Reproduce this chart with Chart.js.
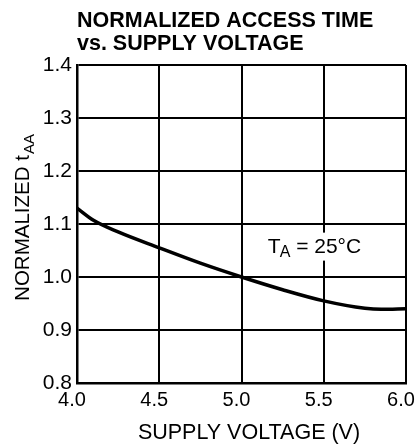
<!DOCTYPE html>
<html>
<head>
<meta charset="utf-8">
<script src="https://cdn.jsdelivr.net/npm/chart.js@4.4.0/dist/chart.umd.min.js"></script>
<style>
  html, body { margin: 0; padding: 0; background: #fff; }
</style>
</head>
<body>
<canvas id="chart" width="418" height="446"></canvas>
<script>
// values
const voltage = [4.0, 4.1, 4.25, 4.5, 4.75, 5.0, 5.25, 5.5, 5.75, 5.85, 6.0]
const normTaa = [1.13, 1.107, 1.085, 1.055, 1.026, 1.0, 0.976, 0.955, 0.941, 0.939, 0.94]
const xTicks = [4.0, 4.5, 5.0, 5.5, 6.0]
const yTicks = [0.8, 0.9, 1.0, 1.1, 1.2, 1.3, 1.4]

const FONT = "'Liberation Sans', Arial, sans-serif"

// axis titles + the TA note, drawn by hand (subscripts)
const textPlugin = {
    id: 'texts',
    afterDraw(chart) {
        const ctx = chart.ctx
        const area = chart.chartArea
        ctx.save()
        ctx.fillStyle = '#000'
        ctx.textBaseline = 'alphabetic'
        ctx.textAlign = 'left'

        // x title
        ctx.font = '21.5px ' + FONT
        ctx.textAlign = 'center'
        ctx.fillText('SUPPLY VOLTAGE (V)', 249, 439)
        ctx.textAlign = 'left'

        // rotated y title
        const main = 'NORMALIZED t'
        const sub = 'AA'
        ctx.font = '20.5px ' + FONT
        const w1 = ctx.measureText(main).width
        ctx.font = '15px ' + FONT
        const w2 = ctx.measureText(sub).width
        ctx.translate(21, (area.top + area.bottom) / 2 - 6)
        ctx.rotate(-Math.PI / 2)
        const sx = -(w1 + w2) / 2
        ctx.font = '20.5px ' + FONT
        ctx.fillText(main, sx, 7.5)
        ctx.font = '15px ' + FONT
        ctx.fillText(sub, sx + w1 + 1, 13)
        ctx.restore()

        // TA = 25°C
        const xs = chart.scales.x
        const ys = chart.scales.y
        const tx = xs.getPixelForValue(5.16)
        const ty = ys.getPixelForValue(1.046)
        ctx.save()
        ctx.font = '21px ' + FONT
        const wT = ctx.measureText('T').width
        ctx.font = '16px ' + FONT
        const wA = ctx.measureText('A').width
        ctx.font = '21px ' + FONT
        const wRest = ctx.measureText(' = 25°C').width
        ctx.fillStyle = '#fff'
        ctx.fillRect(tx - 3, ty - 20, wT + wA + wRest + 4, 28)
        ctx.fillStyle = '#000'
        ctx.fillText('T', tx, ty)
        ctx.font = '16px ' + FONT
        ctx.fillText('A', tx + wT - 1, ty + 4)
        ctx.font = '21px ' + FONT
        ctx.fillText(' = 25°C', tx + wT + wA - 1, ty)
        ctx.restore()
    }
}

const data = {
    datasets: [
        {
            data: voltage.map((v, i) => ({ x: v, y: normTaa[i] })),
            borderColor: '#000',
            borderWidth: 3.5,
            pointRadius: 0,
            fill: false,
            cubicInterpolationMode: 'monotone'
        }
    ]
}

const config = {
    type: 'line',
    data: data,
    plugins: [textPlugin],
    options: {
        responsive: false,
        animation: false,
        layout: { padding: { left: 0, right: 12, top: 0, bottom: 0 } },
        scales: {
            x: {
                type: 'linear',
                min: 4.0,
                max: 6.0,
                afterBuildTicks: scale => { scale.ticks = xTicks.map(v => ({ value: v })) },
                afterFit: scale => {
                    scale.height = 63
                    scale.paddingLeft = 0
                    scale.paddingRight = 0
                },
                grid: { color: '#000', lineWidth: 2, drawTicks: false },
                border: { color: '#000', width: 2.5 },
                ticks: {
                    color: '#000',
                    padding: 5,
                    labelOffset: -5,
                    maxRotation: 0,
                    font: { family: FONT, size: 20 },
                    callback: v => v.toFixed(1)
                },
                title: { display: false }
            },
            y: {
                min: 0.8,
                max: 1.4,
                afterBuildTicks: scale => { scale.ticks = yTicks.map(v => ({ value: v })) },
                afterFit: scale => {
                    scale.width = 77
                    scale.paddingTop = 0
                    scale.paddingBottom = 0
                },
                grid: { color: '#000', lineWidth: 2, drawTicks: false },
                border: { color: '#000', width: 2.5 },
                ticks: {
                    color: '#000',
                    padding: 5,
                    font: { family: FONT, size: 21 },
                    callback: v => v.toFixed(1)
                }
            }
        },
        plugins: {
            legend: { display: false },
            tooltip: { enabled: false },
            title: {
                display: true,
                text: ['NORMALIZED ACCESS TIME', 'vs. SUPPLY VOLTAGE'],
                align: 'start',
                fullSize: false,
                color: '#000',
                font: { family: FONT, size: 21.5, weight: 'bold', lineHeight: 1.07 },
                padding: { top: 10, bottom: 9 }
            }
        }
    }
}

const myChart = new Chart(document.getElementById('chart'), config)
</script>
</body>
</html>
